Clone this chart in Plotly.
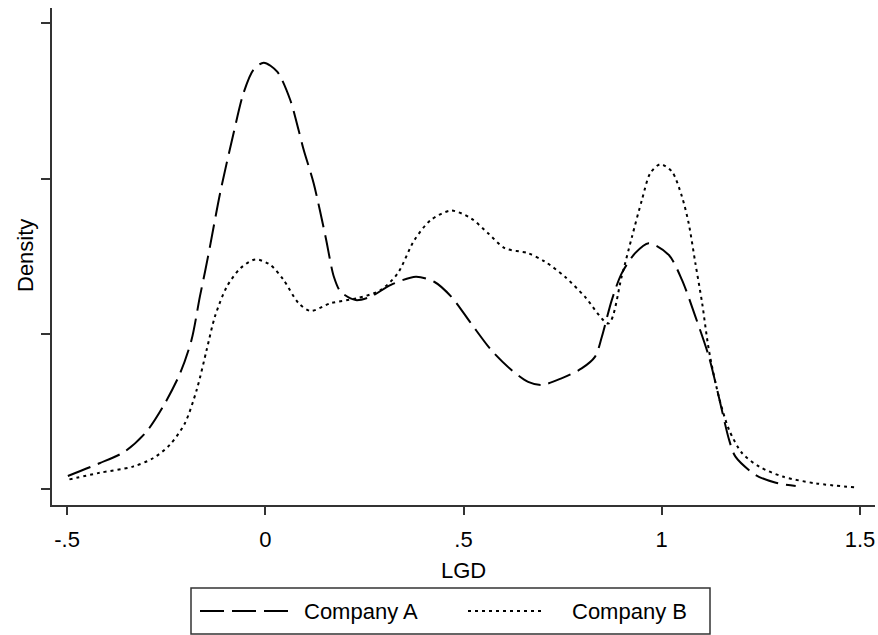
import plotly.graph_objects as go

# Kernel density estimates of LGD for the two companies
lgd_a = [-0.498, -0.418, -0.355, -0.300, -0.258, -0.215, -0.186, -0.165, -0.152, -0.139,
         -0.114, -0.080, -0.055, -0.030, -0.004, 0.030, 0.063, 0.084, 0.097, 0.122,
         0.152, 0.173, 0.190, 0.228, 0.266, 0.317, 0.380, 0.426, 0.469, 0.519,
         0.570, 0.621, 0.663, 0.697, 0.747, 0.798, 0.832, 0.849, 0.874, 0.899,
         0.933, 0.967, 1.018, 1.051, 1.085, 1.119, 1.144, 1.170, 1.186, 1.237,
         1.288, 1.338]
dens_a = [0.043, 0.084, 0.121, 0.185, 0.266, 0.373, 0.481, 0.620, 0.700, 0.785,
          0.953, 1.146, 1.275, 1.350, 1.373, 1.344, 1.253, 1.156, 1.092, 0.985,
          0.813, 0.684, 0.636, 0.609, 0.620, 0.658, 0.684, 0.668, 0.620, 0.534,
          0.448, 0.384, 0.346, 0.336, 0.357, 0.389, 0.427, 0.491, 0.609, 0.695,
          0.760, 0.792, 0.754, 0.674, 0.556, 0.427, 0.298, 0.159, 0.105, 0.046,
          0.021, 0.011]

lgd_b = [-0.494, -0.418, -0.334, -0.283, -0.241, -0.203, -0.173, -0.148, -0.127, -0.097,
         -0.063, -0.025, 0.013, 0.046, 0.084, 0.114, 0.165, 0.232, 0.291, 0.334,
         0.376, 0.418, 0.469, 0.519, 0.562, 0.604, 0.663, 0.705, 0.756, 0.806,
         0.866, 0.899, 0.925, 0.950, 0.971, 0.996, 1.026, 1.051, 1.068, 1.085,
         1.102, 1.119, 1.144, 1.170, 1.203, 1.246, 1.305, 1.389, 1.491]
dens_b = [0.032, 0.053, 0.073, 0.100, 0.143, 0.212, 0.320, 0.448, 0.556, 0.652,
          0.711, 0.740, 0.722, 0.674, 0.599, 0.574, 0.599, 0.615, 0.641, 0.695,
          0.802, 0.867, 0.897, 0.872, 0.824, 0.776, 0.760, 0.733, 0.684, 0.620,
          0.534, 0.685, 0.813, 0.931, 1.017, 1.046, 1.022, 0.942, 0.856, 0.727,
          0.599, 0.448, 0.298, 0.191, 0.116, 0.073, 0.041, 0.019, 0.006]

series_names = ["Company A", "Company B"]
x_ticks = [-0.5, 0, 0.5, 1, 1.5]
x_tick_labels = ["-.5", "0", ".5", "1", "1.5"]
y_ticks = [0, 0.5, 1, 1.5]

FONT = "Liberation Sans, Arial, Helvetica, sans-serif"
FS = 22
INK = "#000000"
AXIS = "#333333"
DASH_A = "24px,8px"
DASH_B = "3px,4px"

W, H = 878, 635
L, R, T, B = 52, 875, 8, 505  # plot area in pixels


def px_x(p):
    return (p - L) / (R - L)


def px_y(p):
    return (B - p) / (B - T)


fig = go.Figure()
fig.add_trace(go.Scatter(
    x=lgd_a, y=dens_a, mode="lines", name=series_names[0], showlegend=False,
    line=dict(color=INK, width=2, dash=DASH_A, shape="spline", smoothing=0.8),
))
fig.add_trace(go.Scatter(
    x=lgd_b, y=dens_b, mode="lines", name=series_names[1], showlegend=False,
    line=dict(color=INK, width=2, dash=DASH_B, shape="spline", smoothing=0.8),
))

fig.update_layout(
    width=W, height=H,
    margin=dict(l=L, r=W - R, t=T, b=H - B, pad=0),
    paper_bgcolor="white", plot_bgcolor="white",
    font=dict(family=FONT, size=FS, color=INK),
    xaxis=dict(
        range=[-0.538, 1.538], tickvals=x_ticks, ticktext=x_tick_labels,
        showgrid=False, zeroline=False, showline=True, linecolor=AXIS, linewidth=2,
        ticks="outside", ticklen=8, tickwidth=1.5, tickcolor=AXIS,
        ticklabelstandoff=6,
        tickfont=dict(size=FS, family=FONT, color=INK),
    ),
    yaxis=dict(
        range=[-0.0505, 1.549], tickvals=y_ticks, showticklabels=False,
        showgrid=False, zeroline=False, showline=True, linecolor=AXIS, linewidth=2,
        ticks="outside", ticklen=9, tickwidth=1.5, tickcolor=AXIS,
    ),
)

annotations = [
    dict(text="LGD", x=px_x(463), y=px_y(570), xanchor="center", yanchor="middle",
         font=dict(size=FS)),
    dict(text="Density", x=px_x(25), y=px_y(256), xanchor="center", yanchor="middle",
         textangle=-90, font=dict(size=FS)),
]

# Legend box below the axis title
box_l, box_r, box_t, box_b = 191, 710, 588, 634
legend_cy = (box_t + box_b) / 2
shapes = [
    dict(type="rect", xref="paper", yref="paper",
         x0=px_x(box_l), x1=px_x(box_r), y0=px_y(box_b), y1=px_y(box_t),
         line=dict(color=AXIS, width=1.5), fillcolor="white", layer="above"),
    dict(type="line", xref="paper", yref="paper",
         x0=px_x(200), x1=px_x(288), y0=px_y(legend_cy), y1=px_y(legend_cy),
         line=dict(color=INK, width=2, dash=DASH_A)),
    dict(type="line", xref="paper", yref="paper",
         x0=px_x(468), x1=px_x(544), y0=px_y(legend_cy), y1=px_y(legend_cy),
         line=dict(color=INK, width=2, dash=DASH_B)),
]
annotations += [
    dict(text=series_names[0], x=px_x(302), y=px_y(legend_cy), xanchor="left",
         yanchor="middle", font=dict(size=FS)),
    dict(text=series_names[1], x=px_x(570), y=px_y(legend_cy), xanchor="left",
         yanchor="middle", font=dict(size=FS)),
]
for a in annotations:
    a.update(xref="paper", yref="paper", showarrow=False)

fig.update_layout(annotations=annotations, shapes=shapes)

fig.write_html("out.html")
